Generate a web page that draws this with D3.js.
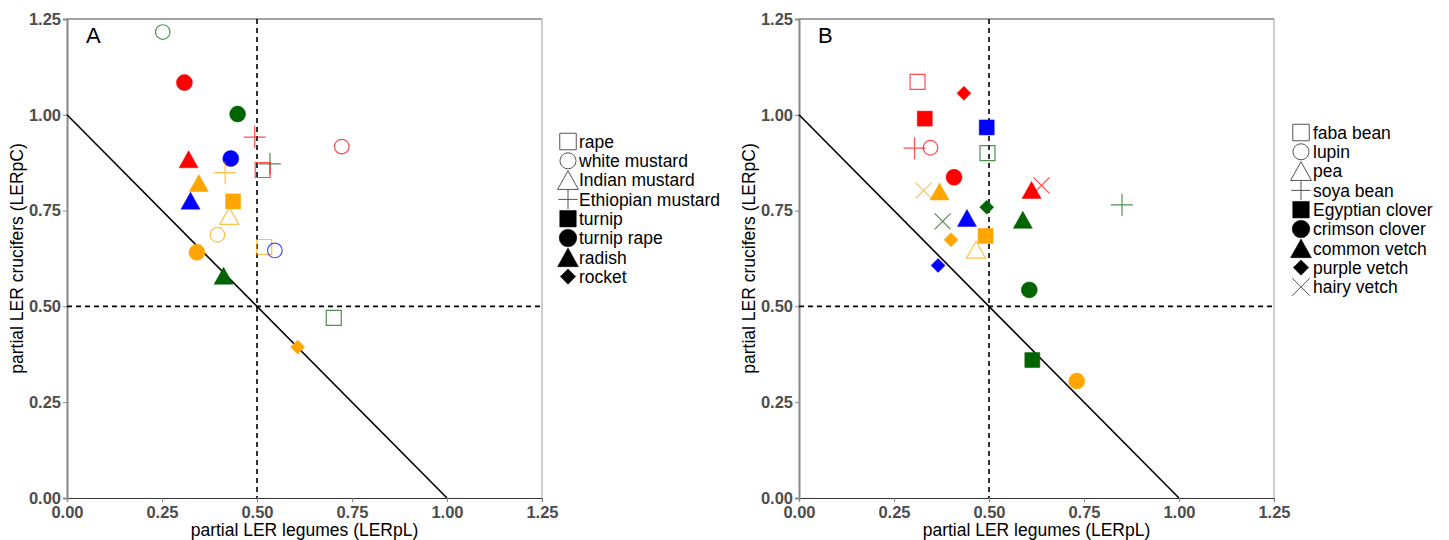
<!DOCTYPE html>
<html><head><meta charset="utf-8">
<script src="https://cdn.jsdelivr.net/npm/d3@7"></script>
<style>body{margin:0;background:#fff}svg{display:block}text{font-family:"Liberation Sans",Arial,sans-serif}</style>
</head><body><svg id="c" width="1449" height="540"></svg>
<script>
// ---------- data ----------
const ticks = [0, 0.25, 0.5, 0.75, 1.0, 1.25];
const tickLabels = ["0.00", "0.25", "0.50", "0.75", "1.00", "1.25"];
const xTitle = "partial LER legumes (LERpL)";
const yTitle = "partial LER crucifers (LERpC)";

// Panel A : shape = crucifer
const legendA = ["rape", "white mustard", "Indian mustard", "Ethiopian mustard", "turnip", "turnip rape", "radish", "rocket"];
const shapesA = ["sqOpen", "circOpen", "triOpen", "plus", "sq", "circ", "tri", "diam"];
const aLegume = [0.252, 0.309, 0.449, 0.494, 0.723, 0.320, 0.431, 0.534, 0.515, 0.416, 0.347, 0.325, 0.437, 0.427, 0.396, 0.519, 0.547, 0.342, 0.412, 0.702, 0.607];
const aCrucifer = [1.216, 1.084, 1.002, 0.942, 0.917, 0.884, 0.886, 0.872, 0.856, 0.849, 0.822, 0.776, 0.774, 0.736, 0.687, 0.655, 0.646, 0.641, 0.580, 0.470, 0.394];
const aSpecies = ["white mustard", "turnip rape", "turnip rape", "Ethiopian mustard", "white mustard", "radish", "turnip rape", "Ethiopian mustard", "rape", "Ethiopian mustard", "radish", "radish", "turnip", "Indian mustard", "white mustard", "rape", "white mustard", "turnip rape", "radish", "rape", "rocket"];
const aColour = ["green", "red", "green", "red", "red", "red", "blue", "green", "red", "orange", "orange", "blue", "orange", "orange", "orange", "orange", "blue", "orange", "green", "green", "orange"];

// Panel B : shape = legume
const legendB = ["faba bean", "lupin", "pea", "soya bean", "Egyptian clover", "crimson clover", "common vetch", "purple vetch", "hairy vetch"];
const shapesB = ["sqOpen", "circOpen", "triOpen", "plus", "sq", "circ", "tri", "diam", "cross"];
const bLegume = [0.312, 0.434, 0.331, 0.494, 0.304, 0.346, 0.496, 0.408, 0.328, 0.370, 0.612, 0.638, 0.494, 0.442, 0.378, 0.589, 0.400, 0.491, 0.466, 0.366, 0.606, 0.850, 0.614, 0.731];
const bCrucifer = [1.086, 1.056, 0.990, 0.967, 0.913, 0.914, 0.900, 0.837, 0.802, 0.800, 0.804, 0.816, 0.759, 0.731, 0.722, 0.726, 0.674, 0.684, 0.648, 0.607, 0.543, 0.765, 0.360, 0.305];
const bSpecies = ["faba bean", "purple vetch", "Egyptian clover", "Egyptian clover", "soya bean", "lupin", "faba bean", "crimson clover", "hairy vetch", "common vetch", "common vetch", "hairy vetch", "purple vetch", "common vetch", "hairy vetch", "common vetch", "purple vetch", "Egyptian clover", "pea", "purple vetch", "crimson clover", "soya bean", "Egyptian clover", "crimson clover"];
const bColour = ["red", "red", "red", "blue", "red", "red", "green", "red", "orange", "orange", "red", "red", "green", "blue", "green", "green", "orange", "orange", "orange", "blue", "green", "green", "green", "orange"];

// ---------- styles ----------
const palette = {red: "#ff0000", orange: "#ffa500", blue: "#0000ff", green: "#006400"};
const svg = d3.select("#c");

function shapePath(kind, big) {
  const k = big ? 1.1 : 1;
  switch (kind) {
    case "sq": case "sqOpen": { const h = 7.5 * k; return `M${-h},${-h}H${h}V${h}H${-h}Z`; }
    case "circ": { const r = 8 * k; return `M${r},0A${r},${r} 0 1,1 ${-r},0A${r},${r} 0 1,1 ${r},0Z`; }
    case "circOpen": { const r = 7.3 * k; return `M${r},0A${r},${r} 0 1,1 ${-r},0A${r},${r} 0 1,1 ${r},0Z`; }
    case "tri": case "triOpen": { const w = 9.5 * k, h = 8.5 * k; return `M0,${-h}L${w},${h}L${-w},${h}Z`; }
    case "diam": { const r = 7 * k; return `M0,${-r}L${r},0L0,${r}L${-r},0Z`; }
    case "plus": { const r = 11 * k * (big ? 0.8 : 1); return `M${-r},0H${r}M0,${-r}V${r}`; }
    case "cross": { const r = 8 * k; return `M${-r},${-r}L${r},${r}M${-r},${r}L${r},${-r}`; }
  }
}
const isFilled = s => (s === "sq" || s === "circ" || s === "tri" || s === "diam");

function panel(cfg) {
  const x = d3.scaleLinear().domain([0, 1.25]).range([cfg.x0, cfg.x1]);
  const y = d3.scaleLinear().domain([0, 1.25]).range([498, 19]);
  const g = svg.append("g");

  // frame top / right
  g.append("line").attr("x1", x(0)).attr("x2", x(1.25)).attr("y1", y(1.25)).attr("y2", y(1.25)).attr("stroke", "#444").attr("stroke-width", 1);
  g.append("line").attr("x1", x(1.25)).attr("x2", x(1.25)).attr("y1", y(1.25)).attr("y2", y(0)).attr("stroke", "#999").attr("stroke-width", 1);

  // axes
  const xa = g.append("g").attr("transform", `translate(0,${y(0)})`)
    .call(d3.axisBottom(x).tickValues(ticks).tickFormat((d, i) => tickLabels[i]).tickSize(4).tickPadding(4));
  xa.select(".domain").attr("stroke", "#333").attr("stroke-width", 1.2);
  xa.selectAll(".tick line").attr("stroke", "#888");
  xa.selectAll("text").attr("font-size", 16.5).attr("font-weight", "bold").attr("fill", "#4d4d4d").attr("font-family", "Liberation Sans, Arial, sans-serif");

  const ya = g.append("g").attr("transform", `translate(${x(0)},0)`)
    .call(d3.axisLeft(y).tickValues(ticks).tickFormat((d, i) => tickLabels[i]).tickSize(4).tickPadding(2));
  ya.select(".domain").attr("stroke", "#888").attr("stroke-width", 2);
  ya.selectAll(".tick line").attr("stroke", "#888");
  ya.selectAll("text").attr("font-size", 16.5).attr("font-weight", "bold").attr("fill", "#4d4d4d").attr("font-family", "Liberation Sans, Arial, sans-serif");

  // reference lines
  g.append("line").attr("x1", x(0.5)).attr("x2", x(0.5)).attr("y1", y(1.25)).attr("y2", y(0))
    .attr("stroke", "#000").attr("stroke-width", 1.6).attr("stroke-dasharray", "5,4");
  g.append("line").attr("x1", x(0)).attr("x2", x(1.25)).attr("y1", y(0.5)).attr("y2", y(0.5))
    .attr("stroke", "#000").attr("stroke-width", 1.6).attr("stroke-dasharray", "5,4");
  g.append("line").attr("x1", x(0)).attr("y1", y(1)).attr("x2", x(1)).attr("y2", y(0))
    .attr("stroke", "#000").attr("stroke-width", 1.6);

  // points
  const data = cfg.lx.map((v, i) => ({x: v, y: cfg.ly[i], shape: cfg.shapes[cfg.legend.indexOf(cfg.species[i])], col: palette[cfg.colour[i]]}));
  g.selectAll("path.pt").data(data).join("path").attr("class", "pt")
    .attr("transform", d => `translate(${x(d.x)},${y(d.y)})`)
    .attr("d", d => shapePath(d.shape, false))
    .attr("fill", d => isFilled(d.shape) ? d.col : "none")
    .attr("stroke", d => d.col)
    .attr("stroke-opacity", d => isFilled(d.shape) ? 1 : 0.7)
    .attr("stroke-width", d => isFilled(d.shape) ? 0.5 : 1.2);

  // panel letter
  g.append("text").attr("x", x(0) + 19).attr("y", 43).attr("font-size", 22).attr("fill", "#000").text(cfg.letter);

  // titles
  g.append("text").attr("x", (x(0) + x(1.25)) / 2).attr("y", 536).attr("text-anchor", "middle")
    .attr("font-size", 17.5).attr("fill", "#000").text(xTitle);
  g.append("text").attr("transform", `translate(${x(0) - 44},${(y(0) + y(1.25)) / 2}) rotate(-90)`)
    .attr("text-anchor", "middle").attr("font-size", 17.5).attr("fill", "#000").text(yTitle);

  // legend
  const lg = g.append("g");
  cfg.legend.forEach((name, i) => {
    const cy = cfg.ly0 + i * 19.3;
    const s = cfg.shapes[i];
    lg.append("path").attr("transform", `translate(${cfg.lsx},${cy})`).attr("d", shapePath(s, true))
      .attr("fill", isFilled(s) ? "#000" : "none").attr("stroke", isFilled(s) ? "#000" : "#555").attr("stroke-width", isFilled(s) ? 0.5 : 1);
    lg.append("text").attr("x", cfg.ltx).attr("y", cy).attr("dy", "0.36em").attr("font-size", 17.5).attr("fill", "#000").text(name);
  });
}

panel({x0: 67, x1: 542, letter: "A", lx: aLegume, ly: aCrucifer, species: aSpecies, colour: aColour,
  legend: legendA, shapes: shapesA, ly0: 141.5, lsx: 568, ltx: 579});
panel({x0: 799, x1: 1274, letter: "B", lx: bLegume, ly: bCrucifer, species: bSpecies, colour: bColour,
  legend: legendB, shapes: shapesB, ly0: 132.5, lsx: 1301, ltx: 1313});
</script></body></html>
